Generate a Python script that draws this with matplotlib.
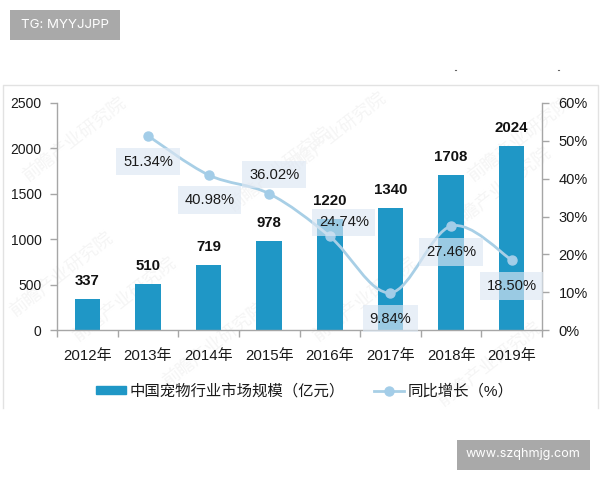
import matplotlib
matplotlib.use("Agg")
import matplotlib.pyplot as plt
from matplotlib.path import Path
from matplotlib.patches import PathPatch, Rectangle
from matplotlib.lines import Line2D
from matplotlib.ticker import PercentFormatter

plt.rcParams['font.family'] = ['Liberation Sans', 'Noto Sans CJK SC', 'DejaVu Sans']

years = ['2012年', '2013年', '2014年', '2015年', '2016年', '2017年', '2018年', '2019年']
market = [337, 510, 719, 978, 1220, 1340, 1708, 2024]
growth_years = [1, 2, 3, 4, 5, 6, 7]
growth = [51.34, 40.98, 36.02, 24.74, 9.84, 27.46, 18.50]
growth_offsets = [(0, -26), (1, -25), (5, 19), (14, 14), (0, -26), (0, -26), (0, -26)]
left_ticks = [0, 500, 1000, 1500, 2000, 2500]
right_ticks = [0, 10, 20, 30, 40, 50, 60]

W, H = 600, 480
BAR = '#1f97c6'
LINE = '#a8cfe6'
DOT = '#a3cde8'
AXC = '#a6a6a6'
TXT = '#1a1a1a'

fig = plt.figure(figsize=(6, 4.8), dpi=100)
bg = fig.add_axes([0, 0, 1, 1], zorder=-5)
bg.set_xlim(0, W); bg.set_ylim(H, 0); bg.axis('off')

# outer frame (open at the bottom)
bg.plot([3, 3, 598, 598], [408, 85, 85, 408], color='#e2e2e2', lw=1)
bg.plot([455, 456], [70, 70], color='#666666', lw=0.8)
bg.plot([558, 559], [70, 70], color='#666666', lw=0.8)

# faint watermarks
for x, y in [(75, 140), (125, 300), (335, 135), (280, 170), (500, 190), (215, 345),
             (365, 300), (520, 140), (490, 365), (62, 275)]:
    bg.text(x, y, '前瞻产业研究院', color='#f5f5f5', fontsize=13, rotation=38,
            ha='center', va='center')

ax = fig.add_axes([57 / W, 1 - 330 / H, 485 / W, 227 / H], facecolor='none')
x = list(range(len(years)))
ax.bar(x, market, width=0.42, color=BAR, zorder=2)
ax.set_xlim(-0.5, 7.5)
ax.set_ylim(0, 2500)
ax.set_yticks(left_ticks)
ax.set_xticks([i - 0.5 for i in range(9)])
ax.set_xticklabels([])
ax.set_xticks(x, minor=True)
ax.set_xticklabels(years, minor=True, fontsize=10.8, color=TXT)
ax.tick_params(axis='x', which='major', length=5, color=AXC, width=1)
ax.tick_params(axis='x', which='minor', length=0, pad=14)
ax.tick_params(axis='y', length=5, color=AXC, width=1, labelsize=10, labelcolor=TXT, pad=6)
for s in ['top', 'right']:
    ax.spines[s].set_visible(False)
for s in ['left', 'bottom']:
    ax.spines[s].set_color(AXC)
    ax.spines[s].set_linewidth(1)

for xi, v in zip(x, market):
    ax.annotate(str(v), (xi, v), xytext=(0, 18), textcoords='offset pixels',
                ha='center', va='center', fontsize=10.8, fontweight='bold',
                color='#111111', zorder=6)

ax2 = ax.twinx()
ax2.set_facecolor('none')
ax2.set_ylim(0, 60)
ax2.set_yticks(right_ticks)
ax2.yaxis.set_major_formatter(PercentFormatter(decimals=0))
ax2.tick_params(axis='y', length=5, color=AXC, width=1, labelsize=10.5, labelcolor=TXT, pad=7)
for s in ['top', 'left', 'bottom']:
    ax2.spines[s].set_visible(False)
ax2.spines['right'].set_color(AXC)
ax2.spines['right'].set_linewidth(1)

# smoothed line: Bezier segments through the data points
n = len(growth)
verts = [(growth_years[0], growth[0])]
codes = [Path.MOVETO]
for i in range(n - 1):
    p0 = (growth_years[max(i - 1, 0)], growth[max(i - 1, 0)])
    p1 = (growth_years[i], growth[i])
    p2 = (growth_years[i + 1], growth[i + 1])
    p3 = (growth_years[min(i + 2, n - 1)], growth[min(i + 2, n - 1)])
    c1 = (p1[0] + (p2[0] - p0[0]) / 6, p1[1] + (p2[1] - p0[1]) / 6)
    c2 = (p2[0] - (p3[0] - p1[0]) / 6, p2[1] - (p3[1] - p1[1]) / 6)
    verts += [c1, c2, p2]
    codes += [Path.CURVE4] * 3
ax2.add_patch(PathPatch(Path(verts, codes), fc='none', ec=LINE, lw=2, zorder=3))
ax2.plot(growth_years, growth, ls='none', marker='o', ms=6.5, color=DOT, zorder=4)

for xi, g, off in zip(growth_years, growth, growth_offsets):
    ax2.annotate(f'{g:.2f}%', (xi, g), xytext=off, textcoords='offset pixels',
                 ha='center', va='center', fontsize=10.6, color=TXT, zorder=5,
                 bbox=dict(boxstyle='square,pad=0.45', fc='#dde7f3', ec='none', alpha=0.65))

handles = [Rectangle((0, 0), 1, 1, color=BAR),
           Line2D([], [], color=LINE, lw=2, marker='o', ms=6.5, mfc=DOT, mec=DOT)]
labels = ['中国宠物行业市场规模（亿元）', '同比增长（%）']
fig.legend(handles, labels, loc='center', bbox_to_anchor=(304.75 / W, 1 - 391 / H), ncol=2,
           frameon=False, fontsize=11.1, handlelength=1.95, handleheight=0.45,
           handletextpad=0.26, columnspacing=1.84, labelcolor=TXT)

# grey badges
top = fig.add_axes([0, 0, 1, 1], zorder=10, facecolor='none')
top.set_xlim(0, W); top.set_ylim(H, 0); top.axis('off')
top.add_patch(Rectangle((10, 10), 110, 30, color='#a9a9a9', lw=0))
top.text(65, 25, 'TG: MYYJJPP', color='white', fontsize=9.6, ha='center', va='center',
         family=['Inter', 'DejaVu Sans'])
top.add_patch(Rectangle((457, 440), 133, 30, color='#a9a9a9', lw=0))
top.text(523, 454, 'www.szqhmjg.com', color='white', fontsize=9.1, ha='center', va='center',
         family=['Inter', 'DejaVu Sans'])

fig.savefig('out.png', dpi=100)
